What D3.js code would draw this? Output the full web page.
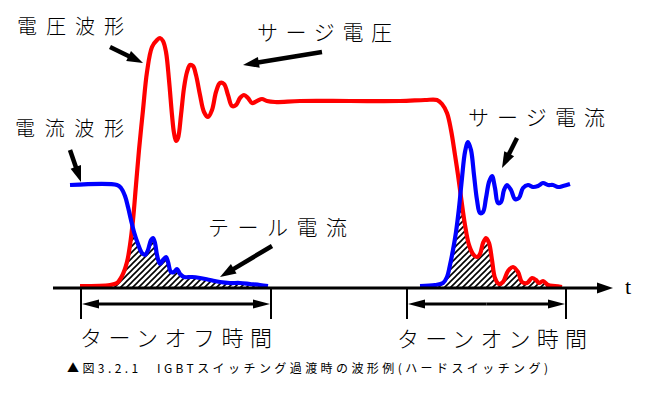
<!DOCTYPE html>
<html><head><meta charset="utf-8">
<script src="https://cdn.jsdelivr.net/npm/d3@7"></script>
<style>
html,body{margin:0;padding:0;background:#fff;}
svg{display:block;}
text{font-family:"Noto Sans CJK JP","Noto Sans",sans-serif;fill:#000;}
</style></head>
<body>
<svg id="chart" width="656" height="395"></svg>
<script>
// ---- data (time t in arbitrary units, amplitude in arbitrary units) ----
const voltageT = [27,57,64,69,74,77,80,83,86,90,94,99,104,107,110,113,116,119,121,123,125,128,131,134,137,140,143,147,151,155,159,163,167,171,175,179,183,187,191,195,199,204,209,214,222,247,297,347,372,384,389,394,398,402,405,408,412,416,420,424,427,430,433,436,439,442,446,450,455,460,465,469,474,479,483,486,490,495,502,509];
const voltageV = [2,3,5,12,26,43,68,103,138,178,216,241,248,250,247,236,208,173,155,147,150,173,200,216,223,222,213,193,176,171,178,196,205,204,193,182,183,190,193,190,185,187,189,187,186,187,187,187,188,188,184,175,158,133,113,91,63,43,34,31,34,45,50,45,28,10,4,6,17,21,16,6,5,10,8,5,7,3,2,1];

const currentOffT = [17,64,68,72,75,78,81,85,89,92,95,98,100,102,104,107,110,113,115,118,121,124,127,131,139,147,157,167,177,187,197,207,215];
const currentOffV = [103,103,100,92,81,68,56,44,35,33,38,48,50,45,33,24,28,31,26,16,16,19,14,11,11,10,8,6,5,5,4,3,2];

const currentOnT = [367,382,390,394,397,400,403,406,409,412,415,418,421,424,427,430,433,436,439,442,445,448,451,454,458,462,466,470,475,480,485,490,495,500,505,510,517];
const currentOnV = [2,3,5,11,23,38,56,80,110,136,146,138,113,88,75,76,90,106,112,100,85,86,98,103,98,89,90,100,103,101,102,105,103,103,101,102,104];

const intervalNames = ["ターンオフ時間", "ターンオン時間"];
const intervalStart = [28, 354];
const intervalEnd = [218, 513];

const labelTexts = ["電圧波形", "電流波形", "サージ電圧", "サージ電流", "テール電流"];
const labelT = [-36, -38, 204, 415, 155];
const labelV = [254, 152, 248, 163, 53];

const arrowTailT = [57, 17, 269, 464, 219];
const arrowTailV = [241, 138, 236, 150, 42];
const arrowTipT = [90, 28, 190, 449, 167];
const arrowTipV = [225, 106, 223, 120, 11];

const axisLabel = "t";
const caption = "▲図3.2.1　IGBTスイッチング過渡時の波形例(ハードスイッチング)";

// ---- scales ----
const x = d3.scaleLinear().domain([0, 560]).range([53, 613]);
const y = d3.scaleLinear().domain([0, 288]).range([288, 0]);

const svg = d3.select("#chart");
const defs = svg.append("defs");

const toPts = (ts, vs) => ts.map((t, i) => [t, vs[i]]);
const voltage = toPts(voltageT, voltageV);
const curOff = toPts(currentOffT, currentOffV);
const curOn = toPts(currentOnT, currentOnV);

const curve = d3.curveCatmullRom.alpha(0.5);
const line = d3.line().x(d => x(d[0])).y(d => y(d[1])).curve(curve);
const area = d3.area().x(d => x(d[0])).y0(y(0)).y1(d => y(d[1])).curve(curve);

// hatch pattern
const pat = defs.append("pattern").attr("id", "hatch")
  .attr("patternUnits", "userSpaceOnUse").attr("width", 6).attr("height", 6);
pat.append("path").attr("d", "M0,6L6,0M-1.5,1.5L1.5,-1.5M4.5,7.5L7.5,4.5")
  .attr("stroke", "#000").attr("stroke-width", 1.6);

defs.append("clipPath").attr("id", "clipV").append("path").attr("d", area(voltage));
const cb = defs.append("clipPath").attr("id", "clipI");
cb.append("path").attr("d", area(curOff));
cb.append("path").attr("d", area(curOn));

svg.append("g").attr("clip-path", "url(#clipV)")
  .append("g").attr("clip-path", "url(#clipI)")
  .append("rect").attr("x", x(0)).attr("y", y(288)).attr("width", x(560) - x(0)).attr("height", y(0) - y(288))
  .attr("fill", "url(#hatch)");

// waveforms
svg.append("path").attr("d", line(voltage)).attr("fill", "none").attr("stroke", "#ff0000").attr("stroke-width", 4.2).attr("stroke-linejoin", "round");
[curOff, curOn].forEach(c => svg.append("path").attr("d", line(c)).attr("fill", "none").attr("stroke", "#0000ff").attr("stroke-width", 4.2).attr("stroke-linejoin", "round"));

// arrow helper
function arrow(g, x1, y1, x2, y2, w, hl, hw) {
  const dx = x2 - x1, dy = y2 - y1, L = Math.hypot(dx, dy);
  const ux = dx / L, uy = dy / L;
  const bx = x2 - ux * hl, by = y2 - uy * hl;
  g.append("line").attr("x1", x1).attr("y1", y1).attr("x2", bx + ux).attr("y2", by + uy)
    .attr("stroke", "#000").attr("stroke-width", w);
  g.append("path").attr("d", `M${x2},${y2}L${bx - uy * hw},${by + ux * hw}L${bx + uy * hw},${by - ux * hw}Z`).attr("fill", "#000");
}

// time axis
const ax = svg.append("g");
arrow(ax, x(0), y(0), x(560), y(0), 3, 16, 5.5);
ax.append("text").attr("x", x(572)).attr("y", y(-6)).text(axisLabel)
  .style("font-family", "'Liberation Serif','DejaVu Serif',serif").style("font-size", "22px");

// interval brackets
intervalNames.forEach((name, i) => {
  const g = svg.append("g");
  [intervalStart[i], intervalEnd[i]].forEach(t =>
    g.append("line").attr("x1", x(t)).attr("x2", x(t)).attr("y1", y(0)).attr("y2", y(-31))
      .attr("stroke", "#000").attr("stroke-width", 2));
  const a = x(intervalStart[i]) + 1, b = x(intervalEnd[i]) - 1, yy = y(-16);
  const mid = (a + b) / 2;
  arrow(g, mid, yy, b, yy, 3, 17, 4.5);
  arrow(g, mid, yy, a, yy, 3, 17, 4.5);
});
svg.append("text").attr("x", x(27)).attr("y", y(-58)).attr("textLength", 192).attr("lengthAdjust", "spacing")
  .style("font-size", "22px").style("font-weight", 300).text(intervalNames[0]);
svg.append("text").attr("x", x(344)).attr("y", y(-59)).attr("textLength", 190).attr("lengthAdjust", "spacing")
  .style("font-size", "22px").style("font-weight", 300).text(intervalNames[1]);

// annotation labels and arrows
const labelW = [107, 109, 135, 137, 139];
const labelSize = [20, 20, 21, 21, 21];
labelTexts.forEach((s, i) => {
  svg.append("text").attr("x", x(labelT[i])).attr("y", y(labelV[i]))
    .attr("textLength", labelW[i]).attr("lengthAdjust", "spacing")
    .style("font-size", labelSize[i] + "px").style("font-weight", 300).text(s);
  arrow(svg.append("g"), x(arrowTailT[i]), y(arrowTailV[i]), x(arrowTipT[i]), y(arrowTipV[i]), 4.5, 16, 5.5);
});

// caption
svg.append("text").attr("x", x(14)).attr("y", y(-85)).attr("textLength", 481).attr("lengthAdjust", "spacing")
  .style("font-size", "12px").text(caption);
</script>
</body></html>
